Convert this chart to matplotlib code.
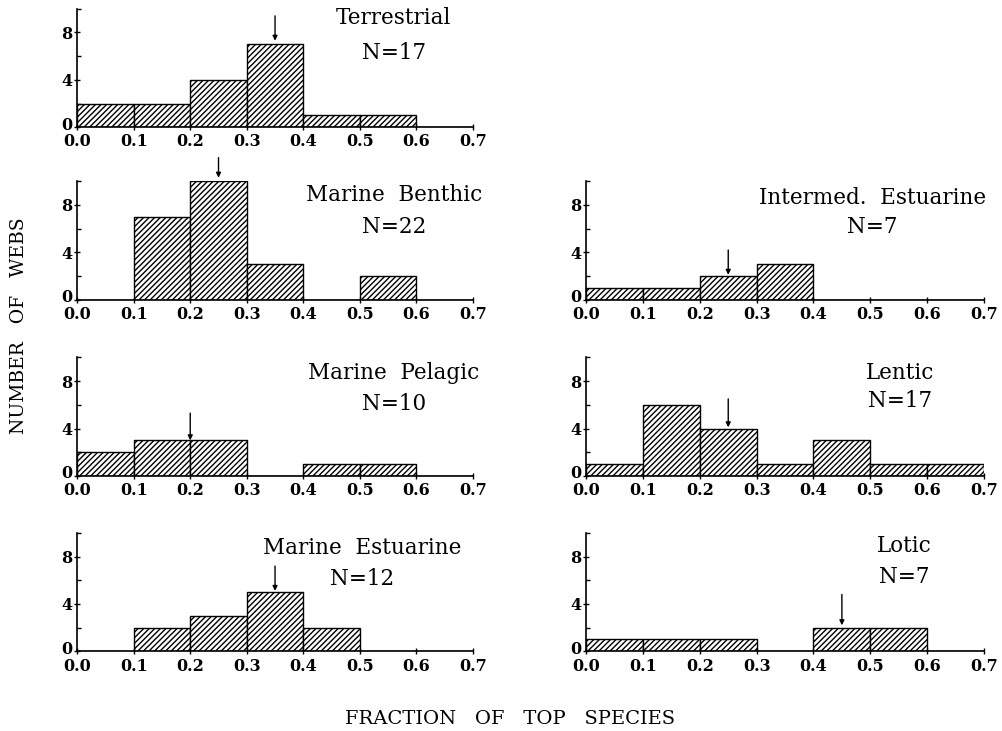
import matplotlib
matplotlib.use("Agg")
import matplotlib.pyplot as plt
import matplotlib.transforms as mtransforms

plt.rcParams['font.family'] = ['DejaVu Serif']
plt.rcParams['hatch.linewidth'] = 1.0

bin_left = [0.0, 0.1, 0.2, 0.3, 0.4, 0.5, 0.6]
x_ticks = [0.0, 0.1, 0.2, 0.3, 0.4, 0.5, 0.6, 0.7]

names = ["Terrestrial", "Marine  Benthic", "Intermed.  Estuarine", "Marine  Pelagic",
         "Lentic", "Marine  Estuarine", "Lotic"]
n_webs = [17, 22, 7, 10, 17, 12, 7]
counts = [
    [2, 2, 4, 7, 1, 1, 0],
    [0, 7, 10, 3, 0, 2, 0],
    [1, 1, 2, 3, 0, 0, 0],
    [2, 3, 3, 0, 1, 1, 0],
    [1, 6, 4, 1, 3, 1, 1],
    [0, 2, 3, 5, 2, 0, 0],
    [1, 1, 1, 0, 2, 2, 0],
]
# mean marked by arrow: x, arrow start y, arrow tip y
arrow_x = [0.35, 0.25, 0.25, 0.20, 0.25, 0.35, 0.45]
arrow_top = [9.4, 12.0, 4.2, 5.3, 6.5, 7.2, 4.8]
arrow_tip = [7.3, 10.3, 2.1, 3.0, 4.1, 5.1, 2.2]

# panel placement (col, row) and label position in axes fraction
grid_pos = [(0, 0), (0, 1), (1, 1), (0, 2), (1, 2), (0, 3), (1, 3)]
label_x = [0.80, 0.80, 0.72, 0.80, 0.79, 0.72, 0.80]
label_y = [0.92, 0.88, 0.86, 0.87, 0.87, 0.87, 0.89]
nlabel_y = [0.63, 0.61, 0.61, 0.61, 0.63, 0.61, 0.63]

fig = plt.figure(figsize=(10.02, 7.31), dpi=100)

col_left = [0.077, 0.585]
col_width = [0.395, 0.397]
row_bottom = [0.826, 0.590, 0.349, 0.109]
row_height = 0.162

for i in range(len(names)):
    c, r = grid_pos[i]
    ax = fig.add_axes([col_left[c], row_bottom[r], col_width[c], row_height])
    ax.bar(bin_left, counts[i], width=0.1, align='edge', color='white',
           edgecolor='black', hatch='//////', linewidth=1.0)
    ax.set_xlim(0, 0.7)
    ax.set_ylim(0, 10)
    ax.set_xticks(x_ticks)
    ax.set_xticklabels(["%.1f" % v for v in x_ticks])
    ax.set_yticks([0, 4, 8])
    ax.set_yticks([2, 6, 10], minor=True)
    for s in ['top', 'right']:
        ax.spines[s].set_visible(False)
    ax.spines['left'].set_linewidth(1.2)
    ax.spines['bottom'].set_linewidth(1.2)
    ax.tick_params(axis='x', which='major', direction='inout', length=5,
                   width=1, labelsize=11.5, pad=2)
    ax.tick_params(axis='y', which='major', direction='inout', length=5,
                   width=1, labelsize=11.5, pad=1)
    ax.tick_params(axis='y', which='minor', direction='in', length=3, width=1)
    for lab in ax.get_xticklabels() + ax.get_yticklabels():
        lab.set_fontweight('bold')
    # lift the "0" label a little, it sits just above the x labels
    zero_lab = ax.get_yticklabels()[0]
    zero_lab.set_transform(zero_lab.get_transform() +
                           mtransforms.ScaledTranslation(0, 3 / 72, fig.dpi_scale_trans))
    ax.annotate("", xy=(arrow_x[i], arrow_tip[i]), xytext=(arrow_x[i], arrow_top[i]),
                arrowprops=dict(arrowstyle='-|>', color='black', lw=1.0,
                                mutation_scale=7, shrinkA=0, shrinkB=0),
                annotation_clip=False)
    ax.text(label_x[i], label_y[i], names[i], transform=ax.transAxes,
            ha='center', va='center', fontsize=15.5)
    ax.text(label_x[i], nlabel_y[i], "N=%d" % n_webs[i], transform=ax.transAxes,
            ha='center', va='center', fontsize=15.5)

fig.text(0.019, 0.554, "NUMBER   OF   WEBS", rotation=90, ha='center', va='center',
         fontsize=13.5)
fig.text(0.509, 0.016, "FRACTION   OF   TOP   SPECIES", ha='center', va='center',
         fontsize=14)

fig.savefig("out.png", dpi=100)
